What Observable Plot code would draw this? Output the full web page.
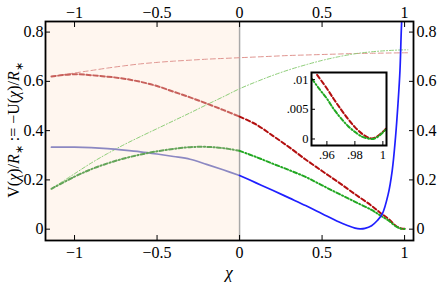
<!DOCTYPE html>
<html><head><meta charset="utf-8">
<script src="https://cdn.jsdelivr.net/npm/d3@7"></script>
<script src="https://cdn.jsdelivr.net/npm/@observablehq/plot@0.6"></script>
<style>
body{margin:0;background:#fff}
#wrap{position:relative;width:437px;height:283px;overflow:hidden}
#wrap svg{position:absolute;overflow:visible}
</style>
</head><body><div id="wrap"></div>
<script>
// ---- main chart data ----
const xTicks = [-1, -0.5, 0, 0.5, 1];
const yTicks = [0, 0.2, 0.4, 0.6, 0.8];
const xDomain = [-1.176, 1.054];
const yDomain = [-0.046, 0.843];

const xGrid = [-1.14, -1.0, -0.9, -0.8, -0.7, -0.6, -0.5, -0.4, -0.3, -0.2, -0.1, 0, 0.1, 0.2, 0.3, 0.4, 0.5, 0.6, 0.7, 0.8, 0.85, 0.9, 0.95, 0.98, 1.0];
const uRed   = [0.62, 0.629, 0.625, 0.619, 0.611, 0.598, 0.581, 0.558, 0.535, 0.51, 0.484, 0.457, 0.425, 0.38, 0.333, 0.283, 0.236, 0.19, 0.142, 0.095, 0.068, 0.043, 0.012, 0.003, 0.0015];
const uGreen = [0.164, 0.213, 0.243, 0.267, 0.287, 0.303, 0.316, 0.326, 0.333, 0.334, 0.329, 0.318, 0.293, 0.266, 0.24, 0.212, 0.178, 0.144, 0.111, 0.078, 0.057, 0.036, 0.01, 0.0015, 0.001];

const xBlue = [-1.14, -1.0, -0.9, -0.8, -0.7, -0.6, -0.5, -0.4, -0.3, -0.2, -0.1, 0, 0.1, 0.2, 0.3, 0.4, 0.5, 0.6, 0.65, 0.7, 0.73, 0.76, 0.8, 0.835, 0.865, 0.9, 0.925, 0.945, 0.96, 0.972, 0.98, 0.986];
const vBlue = [0.333, 0.333, 0.331, 0.327, 0.321, 0.314, 0.305, 0.295, 0.284, 0.263, 0.241, 0.218, 0.188, 0.158, 0.127, 0.096, 0.063, 0.03, 0.016, 0.004, 0.001, 0.003, 0.014, 0.035, 0.062, 0.14, 0.238, 0.373, 0.509, 0.644, 0.806, 0.9];

const xThin = [-1.14, -1.0, -0.9, -0.8, -0.7, -0.6, -0.5, -0.4, -0.3, -0.2, -0.1, 0, 0.1, 0.2, 0.3, 0.4, 0.5, 0.6, 0.7, 0.8, 0.9, 1.0, 1.02];
const thinRed   = [0.62, 0.634, 0.644, 0.654, 0.663, 0.671, 0.677, 0.682, 0.686, 0.69, 0.693, 0.696, 0.699, 0.702, 0.705, 0.707, 0.709, 0.711, 0.713, 0.714, 0.715, 0.716, 0.716];
const thinGreen = [0.164, 0.225, 0.268, 0.307, 0.343, 0.376, 0.408, 0.44, 0.472, 0.505, 0.537, 0.57, 0.598, 0.624, 0.647, 0.667, 0.685, 0.7, 0.712, 0.72, 0.725, 0.728, 0.728];

// ---- inset data ----
const insetXTicks = [0.96, 0.98, 1];
const insetYTicks = [0, 0.005, 0.01];
const insetXDomain = [0.949, 1.0026];
const insetYDomain = [-0.0011, 0.0112];
const insetXRed = [0.953, 0.96, 0.965, 0.97, 0.975, 0.98, 0.985, 0.99, 0.992, 0.995, 1.0, 1.002];
const insetRed  = [0.0108, 0.0085, 0.0067, 0.0050, 0.0034, 0.0020, 0.0009, 0.0002, 0.0001, 0.0003, 0.0012, 0.0017];
const insetXGreen = [0.9494, 0.955, 0.96, 0.965, 0.97, 0.975, 0.98, 0.985, 0.99, 0.993, 0.996, 1.0, 1.002];
const insetGreen  = [0.0101, 0.0083, 0.0068, 0.0050, 0.0035, 0.0022, 0.0012, 0.0004, 0.00005, 0.0, 0.0003, 0.0011, 0.0016];

const rows = (xs, ys) => xs.map((x, i) => ({x, y: ys[i]}));
const neg = r => r.filter(d => d.x <= 0);
const pos = r => r.filter(d => d.x >= 0);

const red = rows(xGrid, uRed), green = rows(xGrid, uGreen), blue = rows(xBlue, vBlue);
const tRed = rows(xThin, thinRed), tGreen = rows(xThin, thinGreen);

const fmt = d => d === 0 ? "0" : d3.format("~g")(d).replace("-", "\u2212");
const font = "'Liberation Serif', 'Times New Roman', serif";
const curve = "catmull-rom";
const dashRed = "4.5,2.5";
const dashGreen = "4,2.2,1.2,2.2";

const main = Plot.plot({
  width: 437, height: 283,
  marginLeft: 45, marginRight: 24, marginTop: 21, marginBottom: 43,
  style: {fontFamily: font, fontSize: "16px", background: "transparent", color: "black", overflow: "visible"},
  x: {domain: xDomain},
  y: {domain: yDomain},
  marks: [
    Plot.rect([{a: xDomain[0], b: 0}], {x1: "a", x2: "b", fill: "#fff6ef"}),
    Plot.ruleX([0], {stroke: "#a9a9a9", strokeWidth: 1.5}),
    // thin curves
    Plot.line(tRed, {x: "x", y: "y", curve, stroke: "#e09590", strokeWidth: 1, strokeDasharray: "5,3"}),
    Plot.line(tGreen, {x: "x", y: "y", curve, stroke: "#8fce7a", strokeWidth: 1, strokeDasharray: "4,2,1,2"}),
    // faded parts (x < 0)
    Plot.line(neg(blue), {x: "x", y: "y", curve, stroke: "#8c88c2", strokeWidth: 1.7}),
    Plot.line(neg(red), {x: "x", y: "y", curve, stroke: "#c8605b", strokeWidth: 2, strokeDasharray: dashRed}),
    Plot.line(neg(green), {x: "x", y: "y", curve, stroke: "#63a458", strokeWidth: 2, strokeDasharray: dashGreen}),
    // full-colour parts (x > 0)
    Plot.line(pos(red), {x: "x", y: "y", curve, stroke: "#b30f0f", strokeWidth: 2, strokeDasharray: dashRed}),
    Plot.line(pos(green), {x: "x", y: "y", curve, stroke: "#22a822", strokeWidth: 2, strokeDasharray: dashGreen}),
    Plot.line(pos(blue), {x: "x", y: "y", curve, stroke: "#1f1fff", strokeWidth: 1.7, clip: true}),
    Plot.frame({stroke: "black", strokeWidth: 1.8}),
    Plot.axisX(xTicks, {anchor: "bottom", tickSize: -5, tickPadding: 11, tickFormat: fmt, label: null}),
    Plot.axisX(xTicks, {anchor: "top", tickSize: -5, tickPadding: 9, tickFormat: fmt, label: null}),
    Plot.axisY(yTicks, {anchor: "left", tickSize: -5, tickPadding: 7, tickFormat: fmt, label: null}),
    Plot.axisY(yTicks, {anchor: "right", tickSize: -5, tickPadding: 8, tickFormat: fmt, label: null})
  ]
});
main.style.left = "0px"; main.style.top = "0px";

const s = d3.select(main);
// y label
const yl = s.append("text")
  .attr("transform", "translate(19,130) rotate(-90)")
  .attr("text-anchor", "middle")
  .attr("font-family", font).attr("font-size", 16).attr("fill", "black");
const parts = [["V(", ""], ["\u03c7", "i"], [")/", ""], ["R", "i"], ["\u2217", "s"], [" := \u2212U(", ""], ["\u03c7", "i"], [")/", ""], ["R", "i"], ["\u2217", "s"]];
parts.forEach(([t, k], i) => {
  const sp = yl.append("tspan").text(t);
  if (k === "i") sp.attr("font-style", "italic");
  const prev = i > 0 ? parts[i - 1][1] : "";
  let dy = 0;
  if (k === "s") { dy = 4; sp.attr("font-size", 11); }
  else if (prev === "s") dy = -4;
  sp.attr("dy", dy);
});
// x label
s.append("text").attr("x", 229).attr("y", 278).attr("text-anchor", "middle")
  .attr("font-family", font).attr("font-size", 17).attr("font-style", "italic").text("\u03c7");

document.getElementById("wrap").appendChild(main);

// ---- inset ----
const inset = Plot.plot({
  width: 120, height: 98,
  marginLeft: 40, marginRight: 5, marginTop: 5, marginBottom: 20,
  style: {fontFamily: font, fontSize: "12.5px", background: "transparent", color: "black", overflow: "visible"},
  x: {domain: insetXDomain},
  y: {domain: insetYDomain},
  marks: [
    Plot.frame({fill: "white"}),
    Plot.line(rows(insetXRed, insetRed), {x: "x", y: "y", curve, stroke: "#b30f0f", strokeWidth: 2, strokeDasharray: dashRed}),
    Plot.line(rows(insetXGreen, insetGreen), {x: "x", y: "y", curve, stroke: "#22a822", strokeWidth: 2, strokeDasharray: dashGreen}),
    Plot.frame({stroke: "black", strokeWidth: 2}),
    Plot.axisX(insetXTicks, {anchor: "bottom", tickSize: -4, tickPadding: 9, tickFormat: d => d === 1 ? "1" : String(d).replace(/^0/, ""), label: null}),
    Plot.axisY(insetYTicks, {anchor: "left", tickSize: -4, tickPadding: 7, tickFormat: d => d === 0 ? "0" : String(d).replace(/^0/, ""), label: null})
  ]
});
inset.style.left = "271px"; inset.style.top = "67px";
document.getElementById("wrap").appendChild(inset);
</script></body></html>
